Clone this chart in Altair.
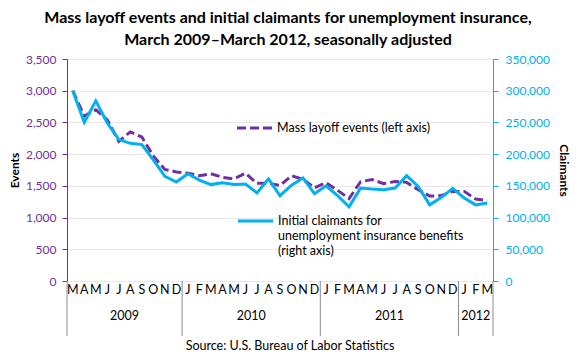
import altair as alt
import pandas as pd

month_labels = ["M", "A", "M", "J", "J", "A", "S", "O", "N", "D",
                "J", "F", "M", "A", "M", "J", "J", "A", "S", "O", "N", "D",
                "J", "F", "M", "A", "M", "J", "J", "A", "S", "O", "N", "D",
                "J", "F", "M"]
events = [3000, 2600, 2700, 2540, 2200, 2350, 2270, 1970, 1760, 1720,
          1700, 1660, 1690, 1635, 1610, 1700, 1540, 1540, 1505, 1660, 1600, 1470,
          1550, 1430, 1300, 1565, 1600, 1535, 1570, 1555, 1440, 1340, 1345, 1413,
          1413, 1292, 1270]
claims = [300000, 250000, 284000, 249000, 223000, 217000, 215000, 191000, 165000, 156000,
          169000, 159000, 152000, 155000, 152000, 153000, 139000, 161000, 134500, 151000, 162500, 137500,
          150000, 134500, 117000, 146600, 145000, 144000, 146600, 166000, 149000, 120000, 131500, 146000,
          131000, 120000, 123000]
years = ["2009", "2010", "2011", "2012"]
year_start = [0, 10, 22, 34]
year_end = [10, 22, 34, 37]

title_lines = ["Mass layoff events and initial claimants for unemployment insurance,",
               "March 2009\u2013March 2012, seasonally adjusted"]
legend_events = "Mass layoff events (left axis)"
legend_claims = ["Initial claimants for", "unemployment insurance benefits", "(right axis)"]
source_text = "Source: U.S. Bureau of Labor Statistics"

FONT = "Lato"
FS = 12.5
AFS = 12
W, H = 426, 222
PURPLE = "#7030A0"
CYAN = "#00B0F0"
GREY = "#8C8C8C"

df = pd.DataFrame({
    "pos": [i + 0.5 for i in range(len(events))],
    "month": month_labels,
    "events": events,
    "claims": claims,
})
ydf = pd.DataFrame({
    "year": years,
    "mid": [(a + b) / 2 for a, b in zip(year_start, year_end)],
})
edges = pd.DataFrame({"edge": year_start + [year_end[-1]]})
one = pd.DataFrame({"k": [0]})

xscale = alt.Scale(domain=[0, len(events)], nice=False, zero=False)
xaxis = alt.Axis(values=list(range(len(events) + 1)), labels=False, title=None, grid=False,
                 tickSize=17, tickColor=GREY, domainColor=GREY, tickWidth=1)

ev = alt.Chart(df).mark_line(color=PURPLE, strokeWidth=3, strokeDash=[9, 4]).encode(
    x=alt.X("pos:Q", scale=xscale, axis=xaxis),
    y=alt.Y("events:Q", scale=alt.Scale(domain=[0, 3500], nice=False),
            axis=alt.Axis(values=list(range(0, 3501, 500)), format=",d", title="Events",
                          titleFont=FONT, titleFontSize=12, titleFontWeight="bold", titleColor="#000",
                          titlePadding=4,
                          labelFont=FONT, labelFontSize=AFS, labelColor=PURPLE,
                          domainColor=PURPLE, tickColor=PURPLE, tickSize=5, labelPadding=6,
                          grid=True, gridColor="#E8E8E8")),
)

cl = alt.Chart(df).mark_line(color=CYAN, strokeWidth=3).encode(
    x=alt.X("pos:Q", scale=xscale, axis=None),
    y=alt.Y("claims:Q", scale=alt.Scale(domain=[0, 350000], nice=False),
            axis=alt.Axis(orient="right", values=list(range(0, 350001, 50000)), format=",d",
                          title="Claimants",
                          titleFont=FONT, titleFontSize=12, titleFontWeight="bold", titleColor="#000",
                          titlePadding=7,
                          labelFont=FONT, labelFontSize=AFS, labelColor=CYAN,
                          domainColor=CYAN, tickColor=CYAN, tickSize=5, labelPadding=7,
                          grid=False)),
)

mon = alt.Chart(df).mark_text(font=FONT, fontSize=FS, color="#000", baseline="middle").encode(
    x=alt.X("pos:Q", scale=xscale, axis=None),
    y=alt.value(H + 9),
    text="month:N",
)

yr_rules = alt.Chart(edges).mark_rule(color=GREY, strokeWidth=1).encode(
    x=alt.X("edge:Q", scale=xscale, axis=None),
    y=alt.value(H),
    y2=alt.value(H + 55),
)

yr_text = alt.Chart(ydf).mark_text(font=FONT, fontSize=FS, color="#000", baseline="middle").encode(
    x=alt.X("mid:Q", scale=xscale, axis=None),
    y=alt.value(H + 35),
    text="year:N",
)

leg1_line = alt.Chart(one).mark_rule(color=PURPLE, strokeWidth=3, strokeDash=[9, 4]).encode(
    x=alt.value(170), x2=alt.value(205), y=alt.value(69))
leg1_text = alt.Chart(one).mark_text(font=FONT, fontSize=FS, color="#000", align="left",
                                     baseline="middle").encode(
    x=alt.value(210), y=alt.value(69), text=alt.value(legend_events))
leg2_line = alt.Chart(one).mark_rule(color=CYAN, strokeWidth=3).encode(
    x=alt.value(171), x2=alt.value(206), y=alt.value(162))
leg2_text = alt.Chart(one).mark_text(font=FONT, fontSize=FS, color="#000", align="left",
                                     baseline="middle", lineHeight=15).encode(
    x=alt.value(211), y=alt.value(162), text=alt.value(legend_claims))

src = alt.Chart(one).mark_text(font=FONT, fontSize=FS, color="#000", baseline="middle").encode(
    x=alt.value(223), y=alt.value(287), text=alt.value(source_text))

chart = alt.layer(
    ev, cl, mon, yr_rules, yr_text, leg1_line, leg1_text, leg2_line, leg2_text, src
).resolve_scale(y="independent").properties(
    width=W, height=H,
    autosize=alt.AutoSizeParams(type="none"),
    padding={"left": 59, "top": 51, "right": 79, "bottom": 71},
    title=alt.TitleParams(text=title_lines, font=FONT, fontSize=16, fontWeight="bold",
                          color="#000", anchor="middle", offset=5, lineHeight=22, dx=8),
).configure_view(stroke=None).configure(background="white")

chart.save("out.html", embed_options={"renderer": "svg", "actions": False})
